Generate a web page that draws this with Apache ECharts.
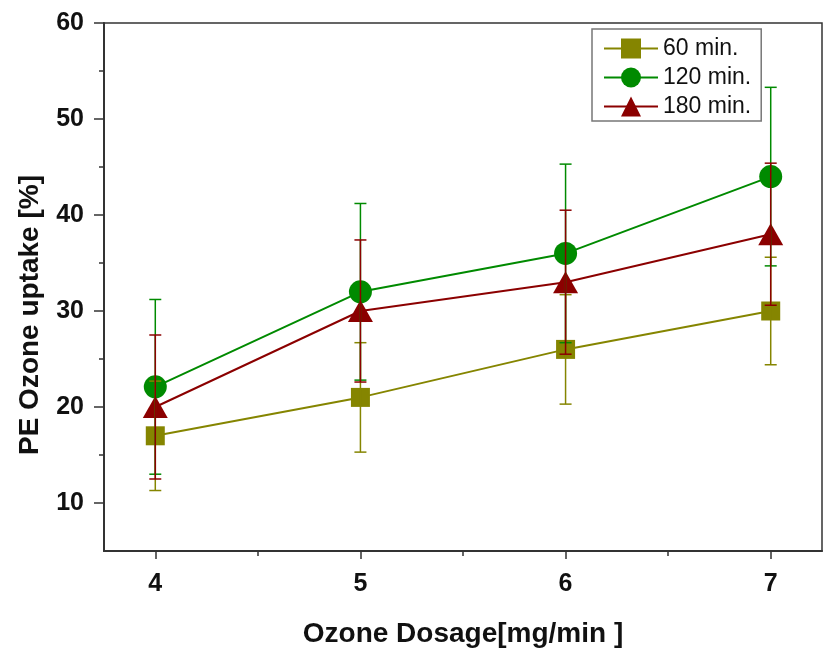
<!DOCTYPE html>
<html>
<head>
<meta charset="utf-8">
<script src="https://cdn.jsdelivr.net/npm/echarts@6/dist/echarts.min.js"></script>
<style>html,body{margin:0;padding:0;background:#fff}#c{width:823px;height:649px}</style>
</head>
<body>
<div id="c"></div>
<script>
var xValues = [4, 5, 6, 7];
var seriesNames = ['60 min.', '120 min.', '180 min.'];
var mean60 = [17, 21, 26, 30];
var err60 = [5.7, 5.7, 5.7, 5.6];
var mean120 = [22.1, 32, 36, 44];
var err120 = [9.1, 9.2, 9.3, 9.3];
var mean180 = [20, 30, 33, 38];
var err180 = [7.5, 7.4, 7.5, 7.4];
var xMajorTicks = [4, 5, 6, 7];
var xMinorTicks = [4.5, 5.5, 6.5];
var yMajorTicks = [10, 20, 30, 40, 50, 60];
var yMinorTicks = [15, 25, 35, 45, 55];

var colors = ['#858500', '#008a00', '#8b0000'];
var symbols = ['rect', 'circle', 'triangle'];
var symbolSizes = [19, 23, [25, 22]];
var means = [mean60, mean120, mean180];
var errs = [err60, err120, err180];
var FONT = '"Liberation Sans", Arial, sans-serif';

var series = [];
means.forEach(function (m, i) {
  series.push({
    name: seriesNames[i],
    type: 'line',
    data: xValues.map(function (x, k) { return [x, m[k]]; }),
    symbol: symbols[i],
    symbolSize: symbolSizes[i],
    itemStyle: { color: colors[i] },
    lineStyle: { color: colors[i], width: 2 },
    z: 3 + i
  });
});
means.forEach(function (m, i) {
  series.push({
    type: 'custom',
    name: seriesNames[i] + ' err',
    data: xValues.map(function (x, k) { return [x, m[k] - errs[i][k], m[k] + errs[i][k]]; }),
    renderItem: function (params, api) {
      var lo = api.coord([api.value(0), api.value(1)]);
      var hi = api.coord([api.value(0), api.value(2)]);
      var w = 6;
      var st = { stroke: colors[i], lineWidth: 1.5 };
      return {
        type: 'group',
        children: [
          { type: 'line', shape: { x1: lo[0], y1: lo[1], x2: hi[0], y2: hi[1] }, style: st },
          { type: 'line', shape: { x1: lo[0] - w, y1: lo[1], x2: lo[0] + w, y2: lo[1] }, style: st },
          { type: 'line', shape: { x1: hi[0] - w, y1: hi[1], x2: hi[0] + w, y2: hi[1] }, style: st }
        ]
      };
    },
    encode: { x: 0, y: [1, 2] },
    z: 10 + i,
    silent: true
  });
});

var chart = echarts.init(document.getElementById('c'));
chart.setOption({
  animation: false,
  backgroundColor: '#fff',
  grid: { left: 104, right: 1, top: 23, bottom: 98, outerBoundsMode: 'none', containLabel: false, show: true, borderColor: '#333', borderWidth: 1.5, backgroundColor: 'transparent' },
  legend: {
    data: seriesNames,
    orient: 'vertical',
    left: 592,
    top: 29,
    padding: [8, 10, 3, 11],
    itemGap: 6,
    itemWidth: 54,
    itemHeight: 25,
    borderColor: '#777',
    borderWidth: 1.5,
    backgroundColor: '#fff',
    textStyle: { fontFamily: FONT, fontSize: 23, color: '#111' }
  },
  xAxis: [{
    type: 'value', min: 3.75, max: 7.25,
    name: 'Ozone Dosage[mg/min ]', nameLocation: 'middle', nameGap: 69,
    nameTextStyle: { fontFamily: FONT, fontSize: 28, fontWeight: 'bold', color: '#111' },
    axisLine: { lineStyle: { color: '#333', width: 2 } },
    axisTick: { show: true, inside: false, length: 8, customValues: xMajorTicks, lineStyle: { color: '#333', width: 1.5 } },
    axisLabel: { customValues: xMajorTicks, margin: 21, fontFamily: FONT, fontSize: 25, fontWeight: 'bold', color: '#111' },
    splitLine: { show: false }
  }, {
    type: 'value', min: 3.75, max: 7.25, position: 'bottom',
    axisLine: { show: false },
    axisTick: { show: true, length: 5, customValues: xMinorTicks, lineStyle: { color: '#333', width: 1.5 } },
    axisLabel: { show: false },
    splitLine: { show: false }
  }],
  yAxis: [{
    type: 'value', min: 5, max: 60,
    name: 'PE Ozone uptake [%]', nameLocation: 'middle', nameGap: 60,
    nameTextStyle: { fontFamily: FONT, fontSize: 28, fontWeight: 'bold', color: '#111', padding: [0, 56, 0, 0] },
    axisLine: { show: true, lineStyle: { color: '#333', width: 2 } },
    axisTick: { show: true, length: 10, customValues: yMajorTicks, lineStyle: { color: '#333', width: 1.5 } },
    axisLabel: { customValues: yMajorTicks, margin: 20, fontFamily: FONT, fontSize: 25, fontWeight: 'bold', color: '#111' },
    splitLine: { show: false }
  }, {
    type: 'value', min: 5, max: 60, position: 'left',
    axisLine: { show: false },
    axisTick: { show: true, length: 5, customValues: yMinorTicks, lineStyle: { color: '#333', width: 1.5 } },
    axisLabel: { show: false },
    splitLine: { show: false }
  }],
  series: series
});
</script>
</body>
</html>
